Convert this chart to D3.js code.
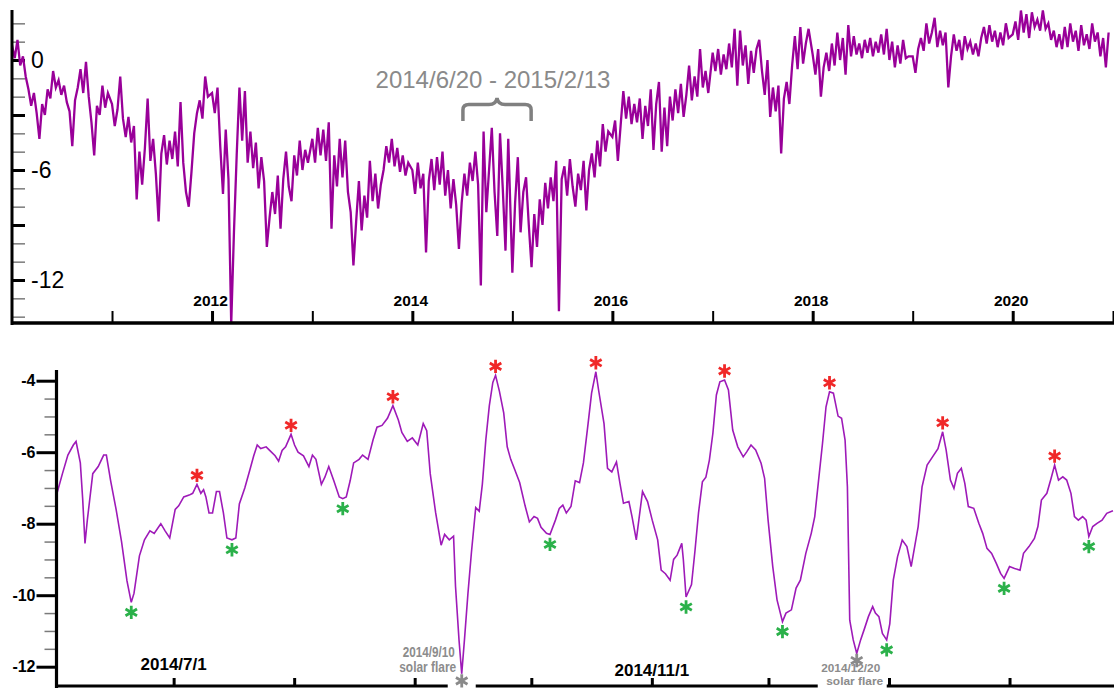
<!DOCTYPE html>
<html>
<head>
<meta charset="utf-8">
<script src="https://cdn.jsdelivr.net/npm/d3@7"></script>
<style>
  html, body { margin: 0; padding: 0; background: #fff; }
  svg { display: block; }
</style>
</head>
<body>
<svg id="chart" width="1114" height="688"></svg>
<script>
// ---- top panel: long record 2010-2020, one reading every 10 days of each year ----
const topYears = [2010, 2011, 2012, 2013, 2014, 2015, 2016, 2017, 2018, 2019, 2020];
const topStepDays = 10;
const top2010 = [0.8, 0.1, 1.1, -0.3, 0.2, -0.9, -1.6, -2.5, -1.8, -2.9, -4.3, -2.4, -3.0, -1.6, -2.1, -0.6, -1.5, -1.1,
                 -1.9, -1.4, -2.3, -2.8, -4.7, -2.2, -1.5, -0.5, -1.8, -0.1, -2.0, -3.4, -5.2, -2.5, -3.0, -1.4, -2.6, -1.8];
const top2011 = [-2.4, -3.6, -2.7, -0.9, -3.2, -4.2, -3.1, -4.5, -3.6, -7.6, -5.0, -6.8, -4.8, -2.1, -5.5, -4.3, -6.2, -8.8,
                 -5.1, -4.1, -5.7, -4.4, -5.4, -3.9, -5.8, -2.3, -5.6, -7.2, -8.0, -6.1, -4.0, -2.9, -2.2, -3.2, -0.9, -2.0];
const top2012 = [-1.8, -2.9, -1.5, -4.7, -7.3, -3.8, -6.5, -14.4, -9.4, -5.2, -1.5, -4.4, -1.7, -5.6, -3.9, -5.9, -4.5, -7.0,
                 -5.3, -6.6, -10.2, -8.6, -7.2, -8.4, -6.3, -9.2, -6.5, -5.0, -6.9, -7.7, -5.2, -6.3, -4.4, -6.0, -4.9, -5.6];
const top2013 = [-4.3, -5.6, -3.7, -5.2, -3.8, -5.5, -3.4, -9.2, -5.2, -6.9, -4.3, -6.4, -4.4, -7.2, -8.3, -11.2, -8.8, -6.6,
                 -9.3, -7.4, -8.6, -5.5, -7.7, -6.2, -8.1, -6.8, -6.0, -4.7, -5.6, -4.3, -5.8, -4.8, -6.1, -5.2, -6.3, -5.6];
const top2014 = [-6.0, -7.3, -5.6, -7.0, -6.2, -10.5, -6.6, -5.4, -7.1, -5.3, -6.8, -5.0, -7.4, -6.0, -8.1, -6.5, -7.9, -10.3,
                 -7.8, -6.2, -7.4, -5.6, -6.6, -5.0, -6.8, -12.3, -3.9, -8.3, -6.0, -3.7, -7.2, -9.6, -4.0, -7.0, -10.4, -4.3];
const top2015 = [-11.6, -7.8, -5.3, -9.4, -7.2, -6.4, -9.0, -11.3, -8.4, -10.2, -7.6, -9.0, -6.7, -8.1, -6.4, -7.7, -5.5, -13.7,
                 -6.5, -5.8, -7.4, -5.4, -6.9, -8.0, -6.2, -7.1, -5.5, -8.2, -6.0, -5.1, -6.4, -4.4, -5.8, -3.5, -5.0, -3.9];
const top2016 = [-4.2, -3.3, -5.5, -3.6, -1.7, -3.2, -2.0, -3.5, -2.4, -3.4, -2.1, -4.3, -2.5, -3.6, -1.6, -4.9, -2.4, -1.2,
                 -5.0, -2.6, -4.7, -2.0, -3.3, -1.6, -2.9, -1.3, -3.1, -1.9, -0.3, -2.2, -0.9, -2.0, 0.6, -1.5, -0.6, -1.8];
const top2017 = [0.4, -0.6, 0.6, -0.8, 0.3, -0.5, 0.9, -0.4, 1.7, -1.4, 1.6, -0.3, 0.8, -1.3, 0.5, -0.7, 0.6, 1.1,
                 -0.6, -1.9, 0.0, -3.1, -1.5, -2.8, -1.4, -5.1, -2.1, -1.2, -2.4, -0.3, 1.3, -0.5, 1.8, -0.2, 0.9, 1.7];
const top2018 = [0.3, -0.8, 0.6, -2.0, -0.4, 0.4, -0.6, 0.9, -0.3, 1.5, 0.0, 1.2, -0.8, 1.9, 0.2, 1.3, 0.3, 0.9,
                 0.1, 1.1, 0.4, 1.2, 0.2, 1.0, 0.4, 1.4, 0.3, 1.7, 0.0, 1.0, -0.4, 0.8, -0.2, 1.1, 0.1, 0.2];
const top2019 = [0.2, -0.7, 0.6, 1.2, 0.5, 2.0, 0.9, 1.5, 2.3, 0.7, 1.6, 0.8, 1.5, -1.5, 0.2, 1.4, 0.5, 1.1,
                 0.0, 1.3, 0.6, 1.0, 0.3, 0.9, 0.2, 1.2, 1.8, 0.9, 1.9, 1.0, 1.6, 0.7, 1.5, 0.8, 2.0, 1.2];
const top2020 = [1.4, 2.1, 1.1, 2.7, 1.5, 2.5, 1.2, 2.6, 1.8, 2.2, 1.6, 2.7, 1.7, 2.0, 1.1, 1.6, 0.7, 1.4,
                 0.6, 1.8, 0.7, 2.0, 1.0, 1.6, 0.5, 1.9, 0.8, 1.4, 0.6, 2.0, 1.0, 1.5, 0.2, 1.2, -0.4, 1.5];
const topValues = [top2010, top2011, top2012, top2013, top2014, top2015, top2016, top2017, top2018, top2019, top2020];

const topMajorTicks = [0, -3, -6, -9, -12];
const topLabelTicks = [0, -6, -12];
const topMinorTicks = [2, 1, -1, -2, -4, -5, -7, -8, -10, -11, -13, -14];
const topLabelYears = [2012, 2014, 2016, 2018, 2020];
const topPlainYears = [2011, 2013, 2015, 2017, 2019, 2021];
const rangeText = "2014/6/20 - 2015/2/13";
const rangeStart = new Date(2014, 5, 20);
const rangeEnd = new Date(2015, 1, 13);

// ---- bottom panel: zoom on 2014/6 - 2015/2, readings as (day after zoomStart, value) ----
const zoomStart = new Date(2014, 5, 1);
const zoomEnd = new Date(2015, 1, 28);
const zoomDays = [
  0, 1.4, 2.8, 4.2, 4.9, 6.0, 6.6, 7.2, 7.8, 9.2,
  10.6, 12.0, 12.7, 13.8, 15.2, 16.6, 18.0, 19.1, 19.8, 21.2,
  22.5, 23.9, 25.0, 26.7, 27.8, 29.0, 30.4, 31.3, 32.6, 34.0,
  34.9, 36.0, 37.0, 37.7, 38.3, 39.1, 40.0, 41.0, 41.8, 42.8,
  43.7, 45.0, 46.0, 46.9, 48.3, 49.6, 50.6, 51.5, 52.4, 53.8,
  54.7, 56.1, 57.0, 57.9, 58.8, 60.2, 61.1, 62.0, 63.4, 64.8,
  65.7, 66.6, 68.0, 68.9, 69.9, 71.2, 72.6, 73.5, 74.4, 75.4,
  76.3, 77.7, 78.6, 80.0, 81.3, 82.3, 83.6, 85.0, 86.4, 87.8,
  88.7, 90.1, 91.4, 92.8, 94.2, 95.1, 96.0, 97.4, 98.8, 99.7,
  100.9, 102.0, 102.5, 103.4, 104.1, 104.8, 105.7, 106.6, 107.7, 108.6,
  109.4, 110.3, 111.2, 112.1, 112.8, 113.8, 114.9, 115.8, 116.7, 117.6,
  119.0, 120.4, 121.5, 122.7, 123.6, 124.5, 125.9, 126.8, 128.2, 129.2,
  130.1, 131.0, 132.2, 133.3, 134.4, 135.4, 136.6, 137.5, 138.6, 139.3,
  140.7, 141.6, 142.7, 143.9, 144.8, 145.7, 147.1, 147.9, 149.0, 150.6,
  151.9, 153.1, 154.5, 155.4, 156.5, 157.7, 158.6, 159.5, 160.7, 161.1,
  161.8, 163.2, 164.1, 165.0, 166.0, 166.9, 167.8, 168.7, 169.6, 170.5,
  171.7, 172.7, 173.8, 175.1, 176.5, 177.4, 178.5, 179.7, 181.1, 182.0,
  182.9, 184.1, 185.2, 186.6, 187.5, 188.9, 190.1, 191.2, 192.6, 194.0,
  194.9, 195.8, 196.9, 197.8, 198.7, 199.7, 200.9, 201.8, 202.7, 203.3,
  203.9, 204.8, 205.7, 206.7, 207.8, 208.7, 209.8, 210.5, 211.4, 212.3,
  213.4, 214.2, 215.1, 216.2, 217.4, 218.6, 219.7, 220.6, 221.5, 222.5,
  223.8, 225.2, 226.6, 227.8, 228.7, 229.8, 230.7, 231.6, 232.6, 233.5,
  234.4, 235.8, 237.1, 238.1, 239.2, 240.4, 241.6, 242.7, 243.6, 245.0,
  246.3, 247.7, 248.6, 250.0, 251.4, 252.3, 253.2, 254.6, 255.7, 256.6,
  257.6, 258.7, 259.7, 260.8, 261.7, 262.7, 263.8, 264.7, 265.4, 266.4,
  267.5, 268.8, 270.0, 271.6
];
const zoomValues = [
  -7.15, -6.6, -6.08, -5.8, -5.7, -6.3, -7.3, -8.55, -7.9, -6.6,
  -6.4, -6.08, -6.08, -6.8, -7.6, -8.5, -9.6, -10.2, -9.95, -8.9,
  -8.45, -8.2, -8.27, -8.0, -8.2, -8.4, -7.6, -7.5, -7.25, -7.2,
  -7.15, -6.9, -7.15, -7.05, -7.25, -7.7, -7.7, -7.1, -7.1, -7.7,
  -8.4, -8.45, -8.4, -7.45, -7.0, -6.5, -6.1, -5.8, -5.9, -5.85,
  -5.95, -6.1, -6.25, -5.95, -5.85, -5.5, -5.8, -6.0, -6.1, -6.4,
  -6.08, -6.2, -6.9, -6.7, -6.4, -6.8, -7.25, -7.3, -7.25, -6.8,
  -6.3, -6.2, -6.08, -6.2, -5.65, -5.3, -5.25, -5.05, -4.7, -5.1,
  -5.45, -5.7, -5.6, -5.8, -5.2, -5.4, -6.6, -7.7, -8.6, -8.3,
  -8.45, -8.35, -9.75, -11.25, -12.2, -11.25, -9.95, -8.8, -7.55, -7.65,
  -6.9, -5.65, -4.7, -4.05, -3.85, -4.3, -4.9, -5.85, -6.2, -6.45,
  -6.85, -7.5, -7.95, -7.8, -7.85, -8.1, -8.27, -8.3, -7.9, -7.57,
  -7.48, -7.7, -7.52, -6.8, -6.85, -6.3, -5.2, -4.35, -3.75, -4.26,
  -5.2, -6.45, -6.55, -6.27, -6.87, -7.43, -7.38, -7.8, -8.45, -7.1,
  -7.38, -7.9, -8.45, -9.3, -9.4, -9.58, -9.0, -8.88, -8.55, -9.0,
  -10.05, -9.7, -8.75, -7.7, -6.83, -6.7, -6.22, -5.47, -4.4, -4.03,
  -3.98, -4.26, -5.38, -5.85, -6.13, -5.99, -5.8, -5.94, -6.31, -6.73,
  -7.9, -9.2, -10.13, -10.74, -10.5, -10.41, -9.8, -9.58, -8.83, -8.27,
  -7.8, -6.87, -5.75, -4.73, -4.31, -4.35, -4.99, -5.05, -5.66, -6.97,
  -10.7, -11.25, -11.63, -11.25, -10.9, -10.6, -10.32, -10.5, -10.6, -11.07,
  -11.25, -10.8, -9.58, -8.92, -8.46, -8.64, -9.2, -8.64, -8.08, -6.97,
  -6.36, -6.13, -5.9, -5.43, -5.94, -6.78, -7.01, -6.59, -6.45, -6.87,
  -7.52, -7.57, -7.99, -8.27, -8.69, -8.83, -9.11, -9.39, -9.53, -9.2,
  -9.25, -9.3, -8.83, -8.64, -8.41, -8.08, -7.34, -7.15, -6.73, -6.36,
  -6.78, -6.69, -6.78, -7.15, -7.8, -7.9, -7.8, -7.9, -8.36, -8.08,
  -7.99, -7.9, -7.71, -7.64
];
const peakDays = [36.0, 60.2, 86.4, 112.8, 138.6, 171.7, 198.7, 227.8, 256.6];
const troughDays = [19.1, 45.0, 73.5, 126.8, 161.8, 186.6, 213.4, 243.6, 265.4];
const flareDays = [104.1, 205.7];
const flareDates = ["2014/9/10", "2014/12/20"];
const flareNote = "solar flare";
const zoomMajorTicks = [-4, -6, -8, -10, -12];
const zoomMinorTicks = [-4.5, -5, -5.5, -6.5, -7, -7.5, -8.5, -9, -9.5, -10.5, -11, -11.5];
const zoomLabelDates = [new Date(2014, 6, 1), new Date(2014, 10, 1)];
const zoomLabelTexts = ["2014/7/1", "2014/11/1"];

// ---- drawing ----
const FONT = '"Liberation Sans", Arial, sans-serif';
const DAY = 864e5;
const svg = d3.select("#chart");

const topBox = { x0: 12, x1: 1114, y0: 10, y1: 323 };
const botBox = { x0: 57, x1: 1114, y0: 370, y1: 686 };

const xTop = d3.scaleTime()
    .domain([new Date(2010, 0, 1), new Date(2021, 0, 1)])
    .range([12, 1113]);
const yTop = d3.scaleLinear().domain([0, -12]).range([60, 280]);

const xBot = d3.scaleTime().domain([zoomStart, zoomEnd]).range([57, 1114.5]);
const yBot = d3.scaleLinear().domain([-4, -12]).range([380.7, 666.7]);

const dayDate = d => new Date(zoomStart.getTime() + d * DAY);

function styleTicks(g, color, width) {
  g.select(".domain").remove();
  g.selectAll(".tick line").attr("stroke", color).attr("stroke-width", width);
}

function addClip(id, box) {
  svg.append("clipPath").attr("id", id)
    .append("rect")
      .attr("x", box.x0).attr("y", box.y0)
      .attr("width", box.x1 - box.x0).attr("height", box.y1 - box.y0);
}

// top panel ------------------------------------------------------------
const topSeries = topYears.flatMap((yr, k) =>
  topValues[k].map((v, i) => ({ date: new Date(yr, 0, 1 + i * topStepDays), value: v })));

addClip("clipTop", topBox);

svg.append("g")
    .attr("transform", `translate(${topBox.x0},0)`)
    .call(d3.axisRight(yTop).tickValues(topMinorTicks).tickSize(13).tickFormat(""))
    .call(g => styleTicks(g, "#7a7a7a", 1.5));

svg.append("g")
    .attr("transform", `translate(${topBox.x0},0)`)
    .call(d3.axisRight(yTop).tickValues(topMajorTicks).tickSize(13).tickPadding(6)
      .tickFormat(d => topLabelTicks.includes(d) ? String(d) : ""))
    .call(g => styleTicks(g, "#000", 3))
    .call(g => g.selectAll(".tick text")
      .attr("fill", "#000").attr("font-family", FONT).attr("font-size", 23));

svg.append("g")
    .attr("transform", `translate(0,${topBox.y1 - 1})`)
    .call(d3.axisTop(xTop).tickValues(topPlainYears.map(y => new Date(y, 0, 1))).tickSize(11).tickFormat(""))
    .call(g => styleTicks(g, "#000", 2));

svg.append("g")
    .attr("transform", `translate(0,${topBox.y1 - 1})`)
    .call(d3.axisTop(xTop).tickValues(topLabelYears.map(y => new Date(y, 0, 1))).tickSize(11).tickPadding(5)
      .tickFormat(d3.timeFormat("%Y")))
    .call(g => styleTicks(g, "#000", 3))
    .call(g => g.selectAll(".tick text")
      .attr("fill", "#000").attr("dx", -2)
      .attr("font-family", FONT).attr("font-weight", "bold").attr("font-size", 15.5));

svg.append("path")
    .datum(topSeries)
    .attr("clip-path", "url(#clipTop)")
    .attr("fill", "none")
    .attr("stroke", "#990099")
    .attr("stroke-width", 2.3)
    .attr("d", d3.line().x(d => xTop(d.date)).y(d => yTop(d.value)));

svg.append("line")
    .attr("x1", topBox.x0).attr("x2", topBox.x0)
    .attr("y1", topBox.y0).attr("y2", topBox.y1 + 2)
    .attr("stroke", "#000").attr("stroke-width", 3);
svg.append("line")
    .attr("x1", topBox.x0).attr("x2", topBox.x1)
    .attr("y1", topBox.y1).attr("y2", topBox.y1)
    .attr("stroke", "#000").attr("stroke-width", 3.5);

// range note with its curly bracket
const bl = xTop(rangeStart) + 4, br = xTop(rangeEnd) + 7, bm = (bl + br) / 2;
const brace = d3.path();
brace.moveTo(bl, 121);
brace.lineTo(bl, 110);
brace.quadraticCurveTo(bl, 104.5, bl + 6, 104.5);
brace.lineTo(bm - 8, 104.5);
brace.quadraticCurveTo(bm - 1, 104.5, bm, 98);
brace.quadraticCurveTo(bm + 1, 104.5, bm + 8, 104.5);
brace.lineTo(br - 6, 104.5);
brace.quadraticCurveTo(br, 104.5, br, 110);
brace.lineTo(br, 121);
svg.append("path")
    .attr("d", brace.toString())
    .attr("fill", "none")
    .attr("stroke", "#808080")
    .attr("stroke-width", 3.5);

svg.append("text")
    .attr("x", bm - 4).attr("y", 87.5)
    .attr("text-anchor", "middle")
    .attr("font-family", FONT).attr("font-size", 24)
    .attr("fill", "#8a8a8a")
    .text(rangeText);

// bottom panel ---------------------------------------------------------
const zoomSeries = zoomDays.map((d, i) => ({ date: dayDate(d), value: zoomValues[i] }));
const valueAt = d => zoomValues[zoomDays.indexOf(d)];

addClip("clipBot", botBox);

svg.append("g")
    .attr("transform", `translate(${botBox.x0 - 0.5},0)`)
    .call(d3.axisLeft(yBot).tickValues(zoomMinorTicks).tickSize(12).tickFormat(""))
    .call(g => styleTicks(g, "#7a7a7a", 1.5));

svg.append("g")
    .attr("transform", `translate(${botBox.x0 - 0.5},0)`)
    .call(d3.axisLeft(yBot).tickValues(zoomMajorTicks).tickSize(20).tickPadding(1).tickFormat(d => String(d)))
    .call(g => styleTicks(g, "#000", 3))
    .call(g => g.selectAll(".tick text")
      .attr("fill", "#000").attr("font-family", FONT)
      .attr("font-weight", "bold").attr("font-size", 16));

svg.append("g")
    .attr("transform", `translate(0,${botBox.y1 - 1})`)
    .call(d3.axisTop(xBot).tickValues(d3.timeMonth.range(new Date(2014, 6, 1), new Date(2015, 1, 2)))
      .tickSize(7).tickFormat(""))
    .call(g => styleTicks(g, "#000", 3));

svg.selectAll(".zoomlabel")
  .data(zoomLabelDates)
  .join("text")
    .attr("class", "zoomlabel")
    .attr("x", d => xBot(d))
    .attr("y", (d, i) => [670, 676][i])
    .attr("text-anchor", "middle")
    .attr("font-family", FONT).attr("font-weight", "bold").attr("font-size", 17)
    .attr("fill", "#000")
    .text((d, i) => zoomLabelTexts[i]);

svg.append("path")
    .datum(zoomSeries)
    .attr("clip-path", "url(#clipBot)")
    .attr("fill", "none")
    .attr("stroke", "#9e1ab8")
    .attr("stroke-width", 1.6)
    .attr("d", d3.line().x(d => xBot(d.date)).y(d => yBot(d.value)));

svg.append("line")
    .attr("x1", botBox.x0 - 0.5).attr("x2", botBox.x0 - 0.5)
    .attr("y1", botBox.y0).attr("y2", 688)
    .attr("stroke", "#000").attr("stroke-width", 3.2);
svg.append("line")
    .attr("x1", botBox.x0).attr("x2", botBox.x1)
    .attr("y1", botBox.y1).attr("y2", botBox.y1)
    .attr("stroke", "#000").attr("stroke-width", 3);

const star = d3.symbol(d3.symbolAsterisk, 125);

function drawStars(days, color, shift) {
  svg.append("g").selectAll("path")
    .data(days)
    .join("path")
      .attr("d", star)
      .attr("transform", d => `translate(${xBot(dayDate(d))},${yBot(valueAt(d)) + shift})`)
      .attr("fill", "none")
      .attr("stroke", color)
      .attr("stroke-width", 2.8);
}

drawStars(peakDays, "#f02828", -9);
drawStars(troughDays, "#2bb14a", 10);

// flare notes: white backing that breaks the axis, grey star, two-line label
const flareLayout = [
  { dx: -33, dy1: -24, dy2: -9, size: 14, box: [-14, -7, 28, 16] },
  { dx: -6, dy1: 12, dy2: 25, size: 11.5, box: [-39, 3, 69, 32] }
];
flareDays.forEach((d, i) => {
  const cx = xBot(dayDate(d)), cy = yBot(valueAt(d)) + 7;
  const lay = flareLayout[i];
  svg.append("rect")
      .attr("x", cx + lay.box[0]).attr("y", cy + lay.box[1])
      .attr("width", lay.box[2]).attr("height", lay.box[3])
      .attr("fill", "#fff");
  svg.append("path")
      .attr("d", star)
      .attr("transform", `translate(${cx},${cy})`)
      .attr("fill", "none").attr("stroke", "#8a8a8a").attr("stroke-width", 2.8);
  const note = svg.append("g")
      .attr("font-family", FONT).attr("font-weight", "bold").attr("font-size", lay.size)
      .attr("fill", "#8c8c8c").attr("text-anchor", "middle");
  note.append("text")
      .attr("x", cx + lay.dx).attr("y", cy + lay.dy1)
      .attr("textLength", i === 0 ? 52 : 59).attr("lengthAdjust", "spacingAndGlyphs")
      .text(flareDates[i]);
  note.append("text")
      .attr("x", cx + lay.dx + (i === 0 ? -1 : 4)).attr("y", cy + lay.dy2)
      .attr("textLength", 57).attr("lengthAdjust", "spacingAndGlyphs")
      .text(flareNote);
});
</script>
</body>
</html>
